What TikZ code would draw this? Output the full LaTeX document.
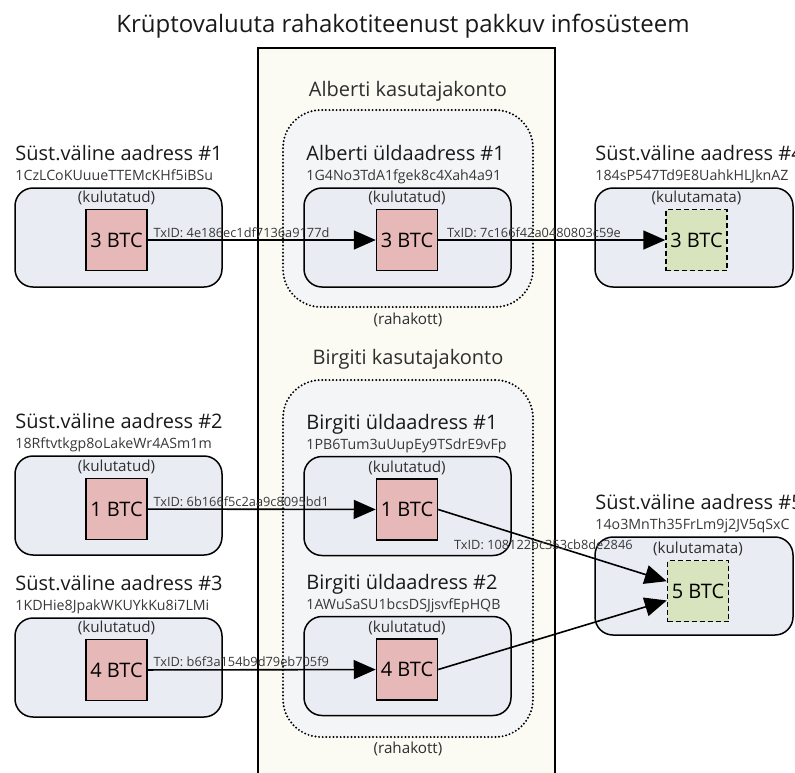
\documentclass[tikz,border=0pt]{standalone}
\usepackage{fontspec}
\setmainfont{Open Sans}
\usetikzlibrary{arrows.meta,positioning}
\definecolor{colbg}{HTML}{FBFBF3}
\definecolor{walletbg}{HTML}{F4F5F6}
\definecolor{boxbg}{HTML}{E9EDF3}
\definecolor{spentfill}{HTML}{E6B8B7}
\definecolor{unspentfill}{HTML}{D7E4BD}
\begin{document}
\begin{tikzpicture}[x=1pt,y=-1pt,
	addrbox/.style={draw, line width=1.5pt, rounded corners=18pt, fill=boxbg, minimum width=207pt, minimum height=99pt, inner sep=0pt},
	wallet/.style={draw, line width=2.2pt, line cap=round, dash pattern=on 0pt off 3.6pt, rounded corners=38pt, fill=walletbg, minimum width=250pt, inner sep=0pt},
	coin/.style={draw, line width=1.5pt, minimum size=61pt, inner sep=0pt, font=\fontsize{20}{22}\selectfont},
	spent/.style={coin, fill=spentfill},
	unspent/.style={coin, fill=unspentfill, dash pattern=on 5pt off 3pt},
	head/.style={anchor=base west, inner sep=0pt, font=\fontsize{20}{23}\selectfont, text=black!90},
	addr/.style={anchor=base west, inner sep=0pt, font=\fontsize{14.2}{16}\selectfont, text=black!78},
	note/.style={anchor=base, inner sep=0pt, font=\fontsize{15.2}{17}\selectfont, text=black!82},
	tx/.style={inner sep=2pt, font=\fontsize{12.8}{14}\selectfont, text=black!78},
	arr/.style={line width=1.6pt, -{Triangle[length=22pt,width=19pt]}}]
	\useasboundingbox (0,0) rectangle (795,772);
	\node[font=\fontsize{24}{28}\selectfont, text=black!90] at (403,26) (title) {Krüptovaluuta rahakotiteenust pakkuv infosüsteem};
	% infosüsteemi veerg
	\draw[fill=colbg, line width=1.5pt] (258,48) rectangle (555,800);
	% rahakotid
	\node[wallet, minimum height=197pt] at (408,208.5) (aw) {};
	\node[wallet, minimum height=357pt] at (408,558.5) (bw) {};
	\node[note, font=\fontsize{20}{23}\selectfont] at ([yshift=12pt]aw.north) (awt) {Alberti kasutajakonto};
	\node[note] at ([yshift=-16pt]aw.south) (awr) {(rahakott)};
	\node[note, font=\fontsize{20}{23}\selectfont] at ([yshift=14pt]bw.north) (bwt) {Birgiti kasutajakonto};
	\node[note] at ([yshift=-15pt]bw.south) (bwr) {(rahakott)};
	% aadressid
	\node[addrbox] at (118.5,237.5) (l1) {};
	\node[addrbox] at (118.5,505.5) (l2) {};
	\node[addrbox] at (118.5,667.5) (l3) {};
	\node[addrbox] at (407.5,237.5) (a1) {};
	\node[addrbox] at (407.5,506) (b1) {};
	\node[addrbox] at (407.5,666) (b2) {};
	\node[addrbox, minimum width=198pt] at (694,237.5) (r4) {};
	\node[addrbox, minimum width=198pt, minimum height=98pt] at (694,586) (r5) {};
	\node[head] at ([xshift=1pt,yshift=26.5pt]l1.north west) {Süst.väline aadress \#1};
	\node[addr] at ([xshift=1pt,yshift=6.5pt]l1.north west) {1CzLCoKUuueTTEMcKHf5iBSu};
	\node[head] at ([xshift=1pt,yshift=26.5pt]l2.north west) {Süst.väline aadress \#2};
	\node[addr] at ([xshift=1pt,yshift=6.5pt]l2.north west) {18Rftvtkgp8oLakeWr4ASm1m};
	\node[head] at ([xshift=1pt,yshift=26.5pt]l3.north west) {Süst.väline aadress \#3};
	\node[addr] at ([xshift=1pt,yshift=6.5pt]l3.north west) {1KDHie8JpakWKUYkKu8i7LMi};
	\node[head] at ([xshift=3pt,yshift=26.5pt]a1.north west) {Alberti üldaadress \#1};
	\node[addr] at ([xshift=3pt,yshift=6.5pt]a1.north west) {1G4No3TdA1fgek8c4Xah4a91};
	\node[head] at ([xshift=3pt,yshift=26.5pt]b1.north west) {Birgiti üldaadress \#1};
	\node[addr] at ([xshift=3pt,yshift=6.5pt]b1.north west) {1PB6Tum3uUupEy9TSdrE9vFp};
	\node[head] at ([xshift=3pt,yshift=26.5pt]b2.north west) {Birgiti üldaadress \#2};
	\node[addr] at ([xshift=3pt,yshift=6.5pt]b2.north west) {1AWuSaSU1bcsDSJjsvfEpHQB};
	\node[head] at ([xshift=1pt,yshift=26.5pt]r4.north west) {Süst.väline aadress \#4};
	\node[addr] at ([xshift=1pt,yshift=6.5pt]r4.north west) {184sP547Td9E8UahkHLJknAZ};
	\node[head] at ([xshift=1pt,yshift=26.5pt]r5.north west) {Süst.väline aadress \#5};
	\node[addr] at ([xshift=1pt,yshift=6.5pt]r5.north west) {14o3MnTh35FrLm9j2JV5qSxC};
	% mündid
	\node[spent] at (116.5,240) (l1c) {3 BTC};
	\node[spent] at (116.5,509) (l2c) {1 BTC};
	\node[spent] at (116.5,670) (l3c) {4 BTC};
	\node[spent] at (407,240) (a1c) {3 BTC};
	\node[spent] at (407,509.5) (b1c) {1 BTC};
	\node[spent] at (407,669.5) (b2c) {4 BTC};
	\node[unspent] at (696.5,240) (r4c) {3 BTC};
	\node[unspent] at (698,591) (r5c) {5 BTC};
	\node[note] at ([yshift=6pt]l1c.north) {(kulutatud)};
	\node[note] at ([yshift=6pt]l2c.north) {(kulutatud)};
	\node[note] at ([yshift=6pt]l3c.north) {(kulutatud)};
	\node[note] at ([yshift=6pt]a1c.north) {(kulutatud)};
	\node[note] at ([yshift=6pt]b1c.north) {(kulutatud)};
	\node[note] at ([yshift=6pt]b2c.north) {(kulutatud)};
	\node[note] at ([yshift=6pt]r4c.north) {(kulutamata)};
	\node[note] at ([yshift=6pt]r5c.north) {(kulutamata)};
	% tehingud
	\draw[arr] (l1c) -- node[tx, pos=0, anchor=south west, xshift=3pt] {TxID: 4e186ec1df7136a9177d} (a1c);
	\draw[arr] (a1c) -- node[tx, pos=0, anchor=south west, xshift=6pt] {TxID: 7c166f42a0480803c59e} (r4c);
	\draw[arr] (l2c) -- node[tx, pos=0, anchor=south west, xshift=3pt] {TxID: 6b166f5c2aa9c8095bd1} (b1c);
	\draw[arr] (l3c) -- node[tx, pos=0, anchor=south west, xshift=3pt] {TxID: b6f3a154b9d79eb705f9} (b2c);
	\draw[arr] (b1c.east) -- node[tx, pos=0.46, yshift=-2pt] {TxID: 108122bc353cb8de2846} (r5c);
	\draw[arr] (b2c.east) -- (r5c);
\end{tikzpicture}
\end{document}
